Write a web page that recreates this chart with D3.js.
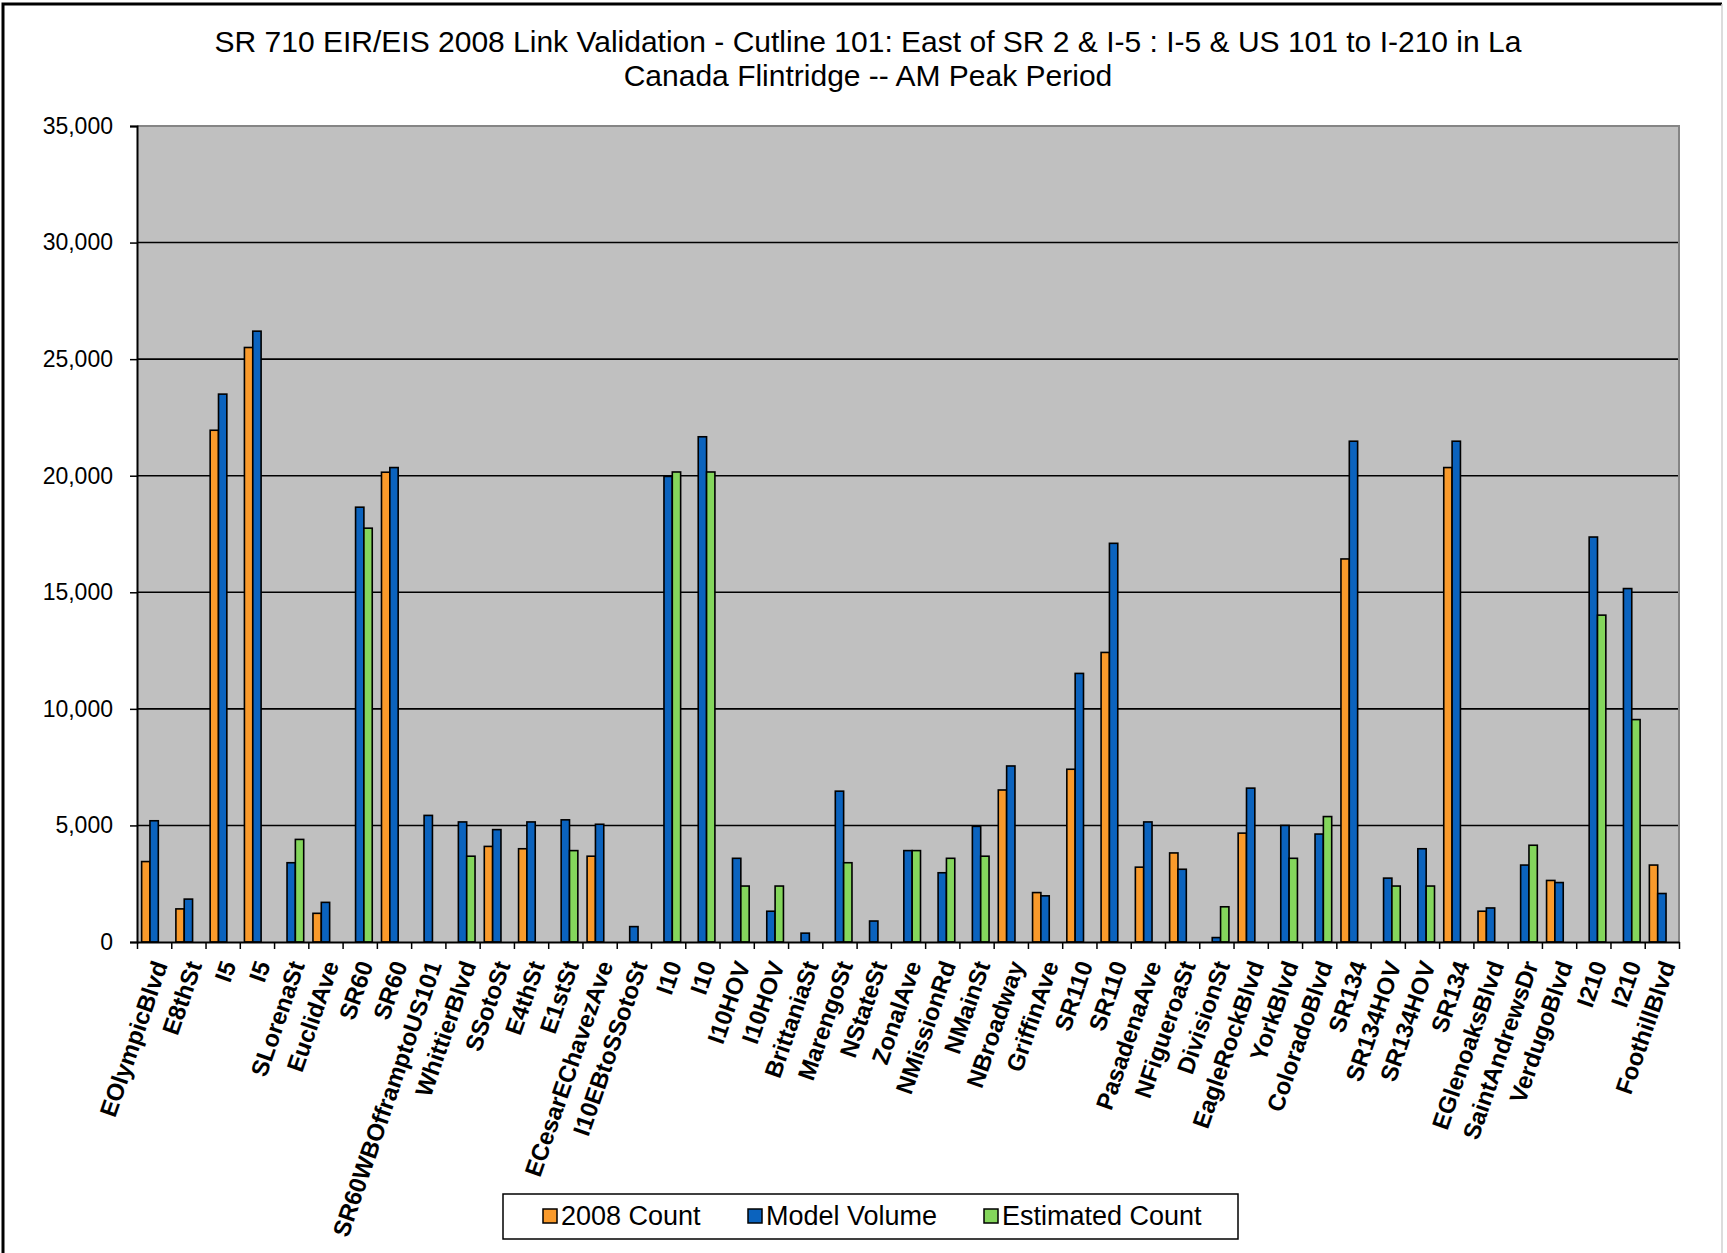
<!DOCTYPE html>
<html>
<head>
<meta charset="utf-8">
<script src="https://cdn.jsdelivr.net/npm/d3@7"></script>
<style>
  body { margin: 0; background: #fff; }
  svg { display: block; font-family: "Liberation Sans", Arial, sans-serif; }
</style>
</head>
<body>
<script>
// link names along the cutline
var categories = ['EOlympicBlvd','E8thSt','I5','I5','SLorenaSt','EuclidAve','SR60','SR60','SR60WBOfframptoUS101','WhittierBlvd',
  'SSotoSt','E4thSt','E1stSt','ECesarEChavezAve','I10EBtoSSotoSt','I10','I10','I10HOV','I10HOV','BrittaniaSt',
  'MarengoSt','NStateSt','ZonalAve','NMissionRd','NMainSt','NBroadway','GriffinAve','SR110','SR110','PasadenaAve',
  'NFigueroaSt','DivisionSt','EagleRockBlvd','YorkBlvd','ColoradoBlvd','SR134','SR134HOV','SR134HOV','SR134','EGlenoaksBlvd',
  'SaintAndrewsDr','VerdugoBlvd','I210','I210','FoothillBlvd'];

var count2008 = [3450,1420,21950,25500,null,1230,null,20150,null,null,
  4100,4000,null,3680,null,null,null,null,null,null,
  null,null,null,null,null,6520,2120,7410,12420,3210,
  3820,null,4670,null,null,16430,null,null,20350,1320,
  null,2640,null,null,3300];

var modelVolume = [5200,1840,23500,26200,3400,1700,18650,20350,5430,5150,
  4820,5150,5240,5050,660,19970,21670,3590,1320,380,
  6470,900,3920,2970,4960,7550,1980,11520,17100,5150,
  3120,190,6600,5000,4630,21480,2740,4000,21480,1460,
  3300,2550,17370,15160,2080];

var estimatedCount = [null,null,null,null,4400,null,17750,null,null,3680,
  null,null,3920,null,null,20160,20160,2400,2400,null,
  3400,null,3920,3590,3680,null,null,null,null,null,
  null,1510,null,3590,5380,null,2400,2400,null,null,
  4150,null,14020,9540,null];

var seriesNames = ['2008 Count','Model Volume','Estimated Count'];
var seriesColors = ['#f99a2b','#0b63be','#84d65c'];
var yTicks = [0,5000,10000,15000,20000,25000,30000,35000];

var titleLines = ['SR 710 EIR/EIS 2008 Link Validation - Cutline 101: East of SR 2 & I-5 : I-5 & US 101 to I-210 in La',
  'Canada Flintridge -- AM Peak Period'];

const width = 1727;
const height = 1253;
const plot = { left: 137, right: 1679, top: 126, bottom: 942 };

const rows = categories.map(function (c, i) {
    return { i: i, name: c, values: [count2008[i], modelVolume[i], estimatedCount[i]] };
});

const svg = d3.select("body").append("svg").attr("width", width).attr("height", height);

// chart border
svg.append("rect").attr("width", width).attr("height", height).attr("fill", "#fff");
svg.append("path").attr("d", "M3,1260 V4 H1722").attr("fill", "none").attr("stroke", "#000").attr("stroke-width", 3);
svg.append("line").attr("x1", 1722).attr("x2", 1722).attr("y1", 4).attr("y2", 1260)
    .attr("stroke", "#d0d0d0").attr("stroke-width", 1.5);

// scales
const x0 = d3.scaleBand()
    .domain(d3.range(categories.length))
    .range([plot.left, plot.right])
    .paddingInner(0.27)
    .paddingOuter(0.135);

const x1 = d3.scaleBand()
    .domain([0, 1, 2])
    .range([0, x0.bandwidth()]);

const xEdge = d3.scaleLinear()
    .domain([0, categories.length])
    .range([plot.left, plot.right]);

const y = d3.scaleLinear()
    .domain([0, 35000])
    .range([plot.bottom, plot.top]);

// plot background
svg.append("rect")
    .attr("x", plot.left).attr("y", plot.top)
    .attr("width", plot.right - plot.left).attr("height", plot.bottom - plot.top)
    .attr("fill", "#c0c0c0");

// gridlines
svg.append("g").selectAll("line")
    .data(yTicks.slice(1, -1))
    .join("line")
    .attr("x1", plot.left).attr("x2", plot.right)
    .attr("y1", function (d) { return y(d); })
    .attr("y2", function (d) { return y(d); })
    .attr("stroke", "#000").attr("stroke-width", 1.6);

// top and right border of plot area
svg.append("path")
    .attr("d", `M${plot.left},${plot.top} H${plot.right} V${plot.bottom}`)
    .attr("fill", "none").attr("stroke", "#858585").attr("stroke-width", 2);

// bars
const groups = svg.append("g").selectAll("g")
    .data(rows)
    .join("g")
    .attr("transform", function (d) { return `translate(${x0(d.i)},0)`; });

groups.selectAll("rect")
    .data(function (d) {
        return d.values.map(function (v, k) { return { k: k, v: v }; })
                       .filter(function (e) { return e.v != null; });
    })
    .join("rect")
    .attr("x", function (d) { return x1(d.k); })
    .attr("width", x1.bandwidth())
    .attr("y", function (d) { return y(d.v); })
    .attr("height", function (d) { return y(0) - y(d.v); })
    .attr("fill", function (d) { return seriesColors[d.k]; })
    .attr("stroke", "#000").attr("stroke-width", 1.6);

// y axis
const yAxis = d3.axisLeft(y)
    .tickValues(yTicks)
    .tickFormat(d3.format(","))
    .tickSize(7)
    .tickPadding(17);

const yG = svg.append("g")
    .attr("transform", `translate(${plot.left},0)`)
    .call(yAxis);
yG.select(".domain").attr("stroke", "#000").attr("stroke-width", 2);
yG.selectAll(".tick line").attr("stroke", "#000").attr("stroke-width", 1.5);
yG.selectAll(".tick text")
    .attr("fill", "#000")
    .style("font-size", "23px")
    .style("font-family", "'Liberation Sans', Arial, sans-serif");

// x axis (ticks at category boundaries)
const xAxis = d3.axisBottom(xEdge)
    .tickValues(d3.range(categories.length + 1))
    .tickFormat("")
    .tickSize(7)
    .tickSizeOuter(0);

const xG = svg.append("g")
    .attr("transform", `translate(0,${plot.bottom})`)
    .call(xAxis);
xG.select(".domain").attr("stroke", "#000").attr("stroke-width", 2);
xG.selectAll(".tick line").attr("stroke", "#000").attr("stroke-width", 1.5);

// rotated category labels
svg.append("g").selectAll("text")
    .data(rows)
    .join("text")
    .attr("transform", function (d) {
        return `translate(${x0(d.i) + x0.bandwidth() / 2 + 6},${plot.bottom + 20}) rotate(-71)`;
    })
    .attr("text-anchor", "end")
    .attr("dy", "0.35em")
    .style("font-size", "24px")
    .style("font-weight", "bold")
    .text(function (d) { return d.name; });

// title
svg.append("g").selectAll("text")
    .data(titleLines)
    .join("text")
    .attr("x", 868)
    .attr("y", function (d, i) { return 52 + i * 34; })
    .attr("text-anchor", "middle")
    .style("font-size", "30px")
    .text(function (d) { return d; });

// legend
const legend = svg.append("g");
legend.append("rect")
    .attr("x", 503).attr("y", 1194).attr("width", 735).attr("height", 45)
    .attr("fill", "#fff").attr("stroke", "#000").attr("stroke-width", 1.5);

var legendX = [543, 748, 984];
const items = legend.selectAll("g.item")
    .data(seriesNames)
    .join("g")
    .attr("class", "item")
    .attr("transform", function (d, i) { return `translate(${legendX[i]},1216)`; });

items.append("rect")
    .attr("x", 0).attr("y", -7).attr("width", 14).attr("height", 14)
    .attr("fill", function (d, i) { return seriesColors[i]; })
    .attr("stroke", "#000").attr("stroke-width", 1.5);

items.append("text")
    .attr("x", 18).attr("dy", "0.35em")
    .style("font-size", "27px")
    .text(function (d) { return d; });
</script>
</body>
</html>
